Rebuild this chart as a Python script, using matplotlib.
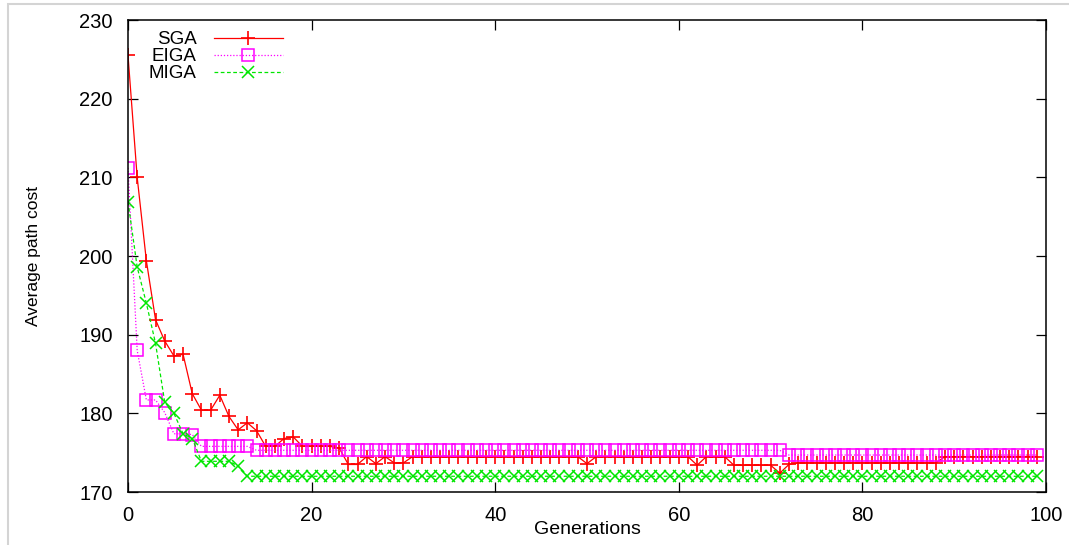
# coding=utf-8

import matplotlib
matplotlib.use('Agg')
import matplotlib.pyplot as plt
from matplotlib.patches import Rectangle

plt.rcParams['font.family'] = ['Liberation Sans', 'DejaVu Sans']

# generations 0..99
generations = list(range(100))

# SGA average path cost
sga = [225.5, 210.0, 199.4, 191.9, 189.2, 187.3, 187.5, 182.5, 180.4, 180.4,
       182.3, 179.6, 177.9, 178.8, 177.8, 175.8, 175.8, 176.8, 177.0, 175.8,
       175.8, 175.8, 175.8, 175.6, 173.5, 173.5, 174.5, 173.6, 174.5, 173.7,
       173.7, 174.5, 174.5, 174.5, 174.5, 174.5, 174.5, 174.5, 174.5, 174.5,
       174.5, 174.5, 174.5, 174.5, 174.5, 174.5, 174.5, 174.5, 174.5, 174.5,
       173.6, 174.5, 174.5, 174.5, 174.5, 174.5, 174.5, 174.5, 174.5, 174.5,
       174.5, 174.5, 173.4, 174.5, 174.5, 174.5, 173.4, 173.4, 173.4, 173.4,
       173.4, 172.4, 173.5, 173.7, 173.7, 173.7, 173.7, 173.7, 173.7, 173.7,
       173.7, 173.7, 173.7, 173.7, 173.7, 173.7, 173.7, 173.7, 173.7, 174.5,
       174.5, 174.5, 174.5, 174.5, 174.5, 174.5, 174.5, 174.5, 174.5, 174.5]

# EIGA average path cost
eiga = [211.2, 188.0, 181.7, 181.7, 180.1, 177.4, 177.4, 177.3, 175.8, 175.8,
        175.8, 175.8, 175.8, 175.8, 175.3, 175.3, 175.3, 175.3, 175.3, 175.3,
        175.3, 175.3, 175.3, 175.3, 175.3, 175.3, 175.3, 175.3, 175.3, 175.3,
        175.3, 175.3, 175.3, 175.3, 175.3, 175.3, 175.3, 175.3, 175.3, 175.3,
        175.3, 175.3, 175.3, 175.3, 175.3, 175.3, 175.3, 175.3, 175.3, 175.3,
        175.3, 175.3, 175.3, 175.3, 175.3, 175.3, 175.3, 175.3, 175.3, 175.3,
        175.3, 175.3, 175.3, 175.3, 175.3, 175.3, 175.3, 175.3, 175.3, 175.3,
        175.3, 175.3, 174.7, 174.7, 174.7, 174.7, 174.7, 174.7, 174.7, 174.7,
        174.7, 174.7, 174.7, 174.7, 174.7, 174.7, 174.7, 174.7, 174.7, 174.7,
        174.7, 174.7, 174.7, 174.7, 174.7, 174.7, 174.7, 174.7, 174.7, 174.7]

# MIGA average path cost
miga = [206.9, 198.6, 194.0, 188.9, 181.4, 180.0, 177.4, 176.8, 173.9, 173.9,
        173.9, 173.9, 173.3, 172.0, 172.0, 172.0, 172.0, 172.0, 172.0, 172.0,
        172.0, 172.0, 172.0, 172.0, 172.0, 172.0, 172.0, 172.0, 172.0, 172.0,
        172.0, 172.0, 172.0, 172.0, 172.0, 172.0, 172.0, 172.0, 172.0, 172.0,
        172.0, 172.0, 172.0, 172.0, 172.0, 172.0, 172.0, 172.0, 172.0, 172.0,
        172.0, 172.0, 172.0, 172.0, 172.0, 172.0, 172.0, 172.0, 172.0, 172.0,
        172.0, 172.0, 172.0, 172.0, 172.0, 172.0, 172.0, 172.0, 172.0, 172.0,
        172.0, 172.0, 172.0, 172.0, 172.0, 172.0, 172.0, 172.0, 172.0, 172.0,
        172.0, 172.0, 172.0, 172.0, 172.0, 172.0, 172.0, 172.0, 172.0, 172.0,
        172.0, 172.0, 172.0, 172.0, 172.0, 172.0, 172.0, 172.0, 172.0, 172.0]

x_ticks = [0, 20, 40, 60, 80, 100]
y_ticks = [170, 180, 190, 200, 210, 220, 230]

fig = plt.figure(figsize=(10.69, 5.45), dpi=100)
ax = fig.add_axes([128 / 1069, 53 / 545, 918 / 1069, 472 / 545])

# 三条曲线
ax.plot(generations, sga, color='#ff0000', linestyle='-', linewidth=0.9,
        marker='+', markersize=10, markeredgewidth=1.2, label='SGA')
ax.plot(generations, eiga, color='#ff00ff', linestyle=(0, (1, 1.5)), linewidth=0.9,
        marker='s', markersize=8.5, markerfacecolor='none', markeredgewidth=1.1, label='EIGA')
ax.plot(generations, miga, color='#00e600', linestyle=(0, (3, 2)), linewidth=0.9,
        marker='x', markersize=9, markeredgewidth=1.1, label='MIGA')

ax.set_xlim(0, 100)
ax.set_ylim(170, 230)
ax.set_xticks(x_ticks)
ax.set_yticks(y_ticks)
ax.tick_params(direction='in', length=7.5, width=0.9, top=True, right=True,
               labelsize=14.5, color='black')
ax.tick_params(axis='x', pad=10)
ax.tick_params(axis='y', pad=11)
for spine in ax.spines.values():
    spine.set_linewidth(1.1)

ax.set_xlabel('Generations', fontsize=14)
ax.xaxis.set_label_coords(0.5, -0.0625)
ax.set_ylabel('Average path cost', fontsize=12.5)
ax.yaxis.set_label_coords(-0.095, 0.5)

# 图例：文字在左，线在右
ax.legend(loc='upper right', bbox_to_anchor=((283 - 128) / 918, (492 - 31) / 472),
          markerfirst=False, frameon=False, fontsize=13.5, borderpad=0,
          borderaxespad=0, handlelength=3.7, handletextpad=0.9, labelspacing=0)

# 外框
fig.add_artist(Rectangle((8 / 1069, -0.05), 1.1, 1 - 4 / 545 + 0.05,
                         transform=fig.transFigure, fill=False,
                         edgecolor='#d4d4d4', linewidth=1.5))

fig.savefig('out.png', dpi=100)
